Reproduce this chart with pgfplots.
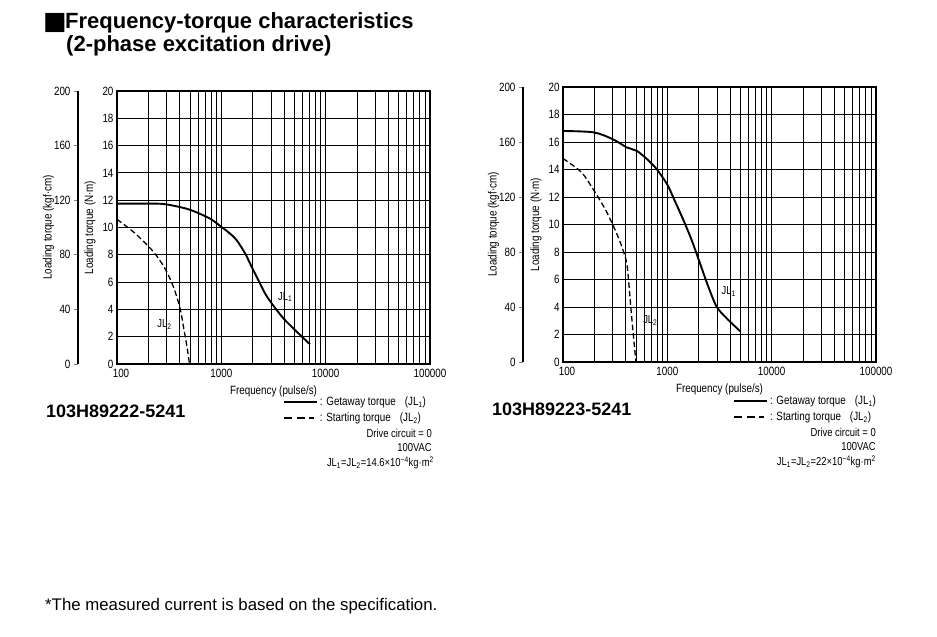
\documentclass[border=0pt]{standalone}
\usepackage{fontspec}
\setmainfont{Liberation Sans}
\newfontfamily\cond{Liberation Sans}[FakeStretch=0.82]
\newfontfamily\dejavu{DejaVu Sans}
\usepackage{pgfplots}
\pgfplotsset{compat=1.18}

\pgfplotsset{
  mainax/.style={
    scale only axis, width=313pt, anchor=south west,
    xmin=100, xmax=100000, ymin=0, ymax=20,
    xtick={100,1000,10000,100000},
    xticklabels={\hspace{8pt}100,1000,10000,100000\hspace{10pt}},
    minor xtick={200,300,400,500,600,700,800,900,2000,3000,4000,5000,6000,7000,8000,9000,20000,30000,40000,50000,60000,70000,80000,90000},
    ytick={0,2,...,20},
    grid=both,
    major grid style={black, line width=0.85pt},
    minor grid style={black, line width=0.85pt},
    axis line style={black, line width=1.5pt},
    major tick length=0pt, minor tick length=0pt,
    tick label style={font=\cond\fontsize{12}{14}\selectfont, text=black},
    xticklabel style={yshift=-2pt},
    yticklabel style={/pgf/number format/assume math mode=true},
    xlabel={Frequency (pulse/s)},
    ylabel={Loading torque (N·m)},
    label style={font=\cond\fontsize{12}{14}\selectfont},
    xlabel style={yshift=-1pt},
    legend style={draw=none, fill=none, font=\cond\fontsize{12}{14}\selectfont, row sep=1.5pt, inner sep=0pt, anchor=north west},
    legend cell align=left,
  },
  secax/.style={
    scale only axis, width=1pt, anchor=south west,
    xmin=0, xmax=1, ymin=0, ymax=200, ytick={0,40,...,200},
    axis y line*=left, axis x line=none,
    y axis line style={line width=1.4pt},
    ytick style={line width=0.9pt},
    tick align=outside, major tick length=4pt,
    tick label style={font=\cond\fontsize{12}{14}\selectfont, text=black},
    yticklabel style={/pgf/number format/assume math mode=true},
    ylabel={Loading torque (kgf·cm)},
    label style={font=\cond\fontsize{12}{14}\selectfont},
    ylabel style={yshift=-7pt},
  },
  getaway/.style={black, line width=1.9pt, smooth},
  starting/.style={black, line width=1.3pt, dash pattern=on 5.5pt off 3pt, smooth},
  getleg/.style={legend image code/.code={\draw[black, line width=1.9pt] (0pt,0pt) -- (33pt,0pt);}},
  startleg/.style={legend image code/.code={\draw[black, line width=1.4pt, dash pattern=on 8pt off 4.5pt] (0pt,0pt) -- (30pt,0pt);}},
}

\begin{document}
\begin{tikzpicture}[x=1pt,y=1pt]
\path[use as bounding box] (0,0) rectangle (937,637);

% Title
\node[anchor=base west, inner sep=0pt] at (43,607.5) {\dejavu\fontsize{25}{25}\selectfont ■};
\node[anchor=base west, inner sep=0pt] at (65,608.5) {\fontsize{22}{26}\selectfont\bfseries Frequency-torque characteristics};
\node[anchor=base west, inner sep=0pt] at (66,585) {\fontsize{22}{26}\selectfont\bfseries (2-phase excitation drive)};

% ---------------- Left chart ----------------
\begin{axis}[secax, height=273pt, at={(78pt,273pt)}]
\end{axis}
\begin{semilogxaxis}[mainax, height=273pt, at={(117pt,273pt)},
  legend style={at={(0.530,-0.113)}}]
\addplot[getaway, getleg] coordinates {
(100,11.75) (200,11.75) (280,11.72) (400,11.5) (500,11.3) (625,11.0) (800,10.6)
(1000,10.05) (1200,9.58) (1400,9.08) (1690,8.1) (1950,7.13) (2260,6.15) (2620,5.18)
(3040,4.44) (3930,3.35) (5275,2.37) (7080,1.44)};
\addlegendentry{: Getaway torque\hspace{9pt}(JL\textsubscript{1})}
\addplot[starting, startleg] coordinates {
(100,10.6) (149,9.57) (223,8.23) (288,7.0) (347,5.66) (402,4.08) (439,2.49)
(470,1.2) (495,0)};
\addlegendentry{: Starting torque\hspace{9pt}(JL\textsubscript{2})}
\node[font=\cond\fontsize{11.5}{13}\selectfont] at (axis cs:4100,4.9) {JL\textsubscript{1}};
\node[font=\cond\fontsize{11.5}{13}\selectfont] at (axis cs:285,2.9) {JL\textsubscript{2}};
\end{semilogxaxis}

\node[anchor=base west, inner sep=0pt] at (46,219.5) {\fontsize{18}{20}\selectfont\bfseries 103H89222-5241};
\begin{scope}[every node/.style={anchor=east, inner sep=0pt, font=\cond\fontsize{11.5}{13}\selectfont}]
\node at (432,204) {Drive circuit = 0};
\node at (432,189) {100VAC};
\node at (434,174) {JL\textsubscript{1}=JL\textsubscript{2}=14.6×10\textsuperscript{−4}kg·m\textsuperscript{2}};
\end{scope}

% ---------------- Right chart ----------------
\begin{axis}[secax, height=275pt, at={(523pt,275pt)}]
\end{axis}
\begin{semilogxaxis}[mainax, height=275pt, at={(563pt,275pt)},
  legend style={at={(0.543,-0.116)}}]
\addplot[getaway, getleg] coordinates {
(100,16.8) (197,16.7) (300,16.2) (410,15.6) (511,15.35) (650,14.7) (795,14.0)
(1000,12.9) (1150,11.9) (1420,10.35) (1710,8.87) (2055,7.18) (2470,5.48) (2970,4.02)
(3700,3.18) (5050,2.2)};
\addlegendentry{: Getaway torque\hspace{9pt}(JL\textsubscript{1})}
\addplot[starting, startleg] coordinates {
(100,14.8) (150,13.8) (197,12.5) (250,11.2) (295,10.1) (350,8.8) (400,7.5)
(412,7.0) (425,5.95) (458,3.04) (500,0)};
\addlegendentry{: Starting torque\hspace{9pt}(JL\textsubscript{2})}
\node[font=\cond\fontsize{11.5}{13}\selectfont] at (axis cs:3875,5.1) {JL\textsubscript{1}};
\node[font=\cond\fontsize{11.5}{13}\selectfont] at (axis cs:687,3.0) {JL\textsubscript{2}};
\end{semilogxaxis}

\node[anchor=base west, inner sep=0pt] at (492,221) {\fontsize{18}{20}\selectfont\bfseries 103H89223-5241};
\begin{scope}[every node/.style={anchor=east, inner sep=0pt, font=\cond\fontsize{11.5}{13}\selectfont}]
\node at (876,205) {Drive circuit = 0};
\node at (876,190) {100VAC};
\node at (876,175) {JL\textsubscript{1}=JL\textsubscript{2}=22×10\textsuperscript{−4}kg·m\textsuperscript{2}};
\end{scope}

% Footnote
\node[anchor=base west, inner sep=0pt] at (45,26) {\fontsize{16.8}{19}\selectfont *The measured current is based on the specification.};
\end{tikzpicture}
\end{document}
